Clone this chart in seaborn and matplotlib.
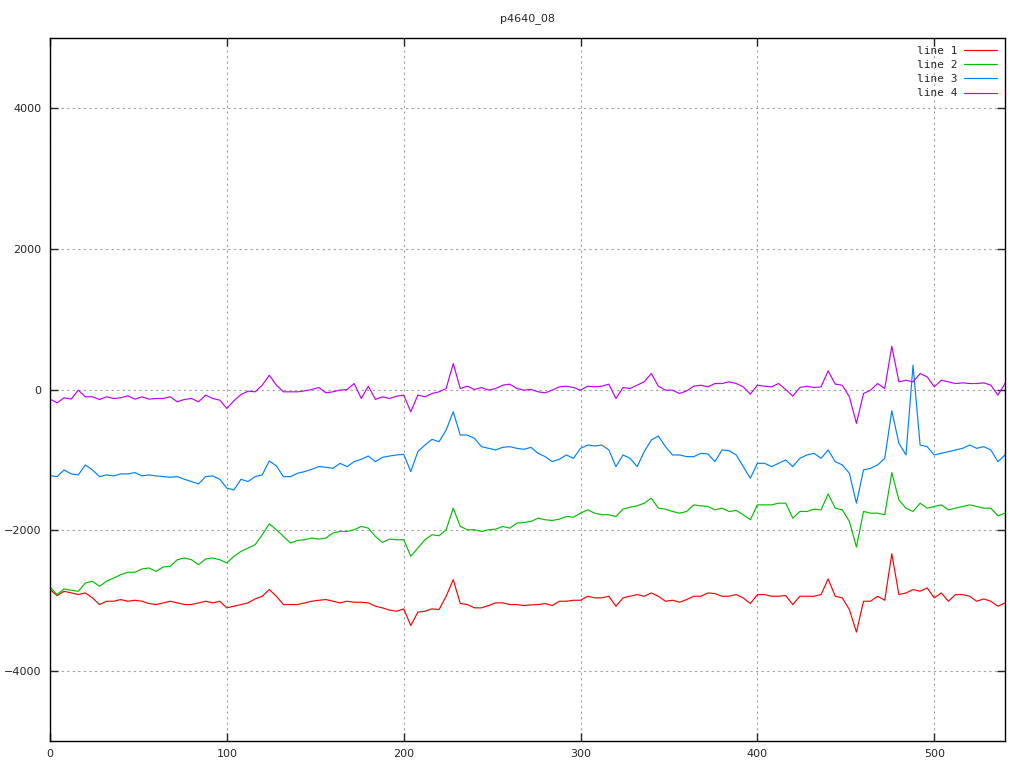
import numpy as np
import pandas as pd
import seaborn as sns
import matplotlib
matplotlib.use("Agg")
import matplotlib.pyplot as plt

title = "p4640_08"
x_vals = list(range(0, 541, 4))

line1 = [-2846, -2931, -2870, -2894, -2917, -2894, -2964, -3059, -3012, -3012,
         -2988, -3012, -2998, -3012, -3045, -3059, -3035, -3012, -3035, -3059,
         -3059, -3035, -3012, -3035, -3012, -3106, -3083, -3059, -3035, -2979,
         -2941, -2846, -2941, -3059, -3059, -3059, -3035, -3012, -2998, -2988,
         -3012, -3035, -3012, -3026, -3026, -3035, -3083, -3106, -3139, -3154,
         -3120, -3357, -3168, -3154, -3120, -3130, -2941, -2704, -3045, -3059,
         -3106, -3106, -3073, -3035, -3035, -3059, -3059, -3073, -3064, -3059,
         -3045, -3073, -3012, -3012, -2998, -2998, -2941, -2964, -2964, -2941,
         -3083, -2964, -2941, -2917, -2941, -2894, -2941, -3012, -2998, -3026,
         -2988, -2941, -2941, -2894, -2903, -2941, -2941, -2917, -2964, -3045,
         -2917, -2917, -2941, -2941, -2931, -3059, -2941, -2941, -2941, -2917,
         -2695, -2941, -2964, -3130, -3451, -3012, -3012, -2941, -2998, -2336,
         -2917, -2894, -2846, -2870, -2823, -2964, -2894, -3012, -2917, -2917,
         -2941, -3012, -2979, -3012, -3083, -3035]

line2 = [-2808, -2917, -2837, -2856, -2870, -2752, -2728, -2799, -2728, -2681,
         -2634, -2600, -2600, -2553, -2539, -2586, -2525, -2515, -2421, -2397,
         -2421, -2492, -2411, -2397, -2421, -2468, -2373, -2303, -2255, -2208,
         -2066, -1910, -1995, -2090, -2184, -2147, -2137, -2113, -2128, -2113,
         -2042, -2019, -2019, -1995, -1948, -1972, -2090, -2175, -2128, -2137,
         -2137, -2373, -2255, -2137, -2066, -2080, -1995, -1688, -1948, -1995,
         -1995, -2019, -1995, -1986, -1948, -1972, -1901, -1891, -1877, -1830,
         -1853, -1863, -1844, -1806, -1816, -1759, -1712, -1759, -1782, -1782,
         -1806, -1702, -1674, -1655, -1617, -1546, -1688, -1702, -1735, -1759,
         -1735, -1641, -1655, -1664, -1712, -1688, -1735, -1721, -1782, -1853,
         -1641, -1641, -1641, -1617, -1617, -1830, -1735, -1735, -1702, -1712,
         -1485, -1688, -1712, -1877, -2241, -1735, -1759, -1759, -1782, -1182,
         -1570, -1688, -1735, -1617, -1688, -1664, -1641, -1712, -1688, -1664,
         -1641, -1664, -1688, -1688, -1797, -1759]

line3 = [-1225, -1239, -1144, -1201, -1215, -1073, -1144, -1239, -1215, -1229,
         -1201, -1201, -1182, -1229, -1215, -1229, -1239, -1248, -1239, -1277,
         -1310, -1343, -1239, -1229, -1277, -1404, -1428, -1277, -1310, -1239,
         -1215, -1017, -1087, -1239, -1239, -1191, -1168, -1135, -1097, -1106,
         -1121, -1050, -1097, -1026, -993, -946, -1026, -965, -946, -931,
         -922, -1168, -884, -790, -709, -742, -577, -317, -648, -648,
         -695, -813, -837, -860, -823, -813, -837, -851, -823, -908,
         -955, -1026, -993, -931, -979, -837, -790, -804, -790, -860,
         -1097, -931, -979, -1097, -884, -719, -662, -813, -931, -931,
         -955, -955, -908, -917, -1026, -860, -870, -931, -1097, -1262,
         -1050, -1050, -1097, -1050, -1002, -1097, -979, -931, -908, -979,
         -860, -1026, -1073, -1191, -1617, -1144, -1121, -1073, -979, -303,
         -766, -931, 345, -790, -813, -931, -908, -884, -860, -837,
         -790, -837, -813, -860, -1026, -931]

line4 = [-137, -189, -118, -137, -9, -104, -104, -142, -104, -128,
         -118, -90, -137, -104, -137, -128, -128, -104, -175, -142,
         -128, -175, -80, -128, -151, -270, -161, -71, -24, -33,
         61, 203, 61, -33, -33, -33, -19, 0, 28, -47,
         -33, -9, 0, 85, -128, 47, -142, -104, -128, -95,
         -80, -317, -80, -104, -57, -33, 14, 369, 14, 47,
         0, 28, -9, 14, 61, 76, 14, -9, 0, -33,
         -47, -9, 38, 47, 28, -9, 47, 38, 47, 76,
         -128, 28, 14, 61, 109, 227, 47, -9, -9, -57,
         -19, 47, 61, 38, 85, 85, 109, 85, 38, -66,
         61, 47, 38, 85, 0, -95, 28, 47, 28, 38,
         265, 76, 61, -104, -482, -57, -9, 85, 14, 615,
         109, 132, 109, 227, 180, 38, 132, 109, 85, 95,
         85, 85, 95, 61, -80, 85]

series_names = ["line 1", "line 2", "line 3", "line 4"]
series_colors = ["#ff0000", "#00c000", "#0080ff", "#c000ff"]
x_ticks = [0, 100, 200, 300, 400, 500]
y_ticks = [-4000, -2000, 0, 2000, 4000]

frames = []
for name, vals in zip(series_names, [line1, line2, line3, line4]):
    frames.append(pd.DataFrame({"x": x_vals, "y": vals, "series": name}))
df = pd.concat(frames, ignore_index=True)

sns.set_style("white")
plt.rcParams['font.family'] = ['DejaVu Sans']

fig = plt.figure(figsize=(10.24, 7.68), dpi=100)
ax = fig.add_axes([50/1024, 1 - 741/768, 955/1024, 703/768])

sns.lineplot(data=df, x="x", y="y", hue="series", hue_order=series_names,
             palette=dict(zip(series_names, series_colors)), linewidth=0.85,
             ax=ax, legend=True, estimator=None, sort=False)

ax.set_xlim(0, 540)
ax.set_ylim(-5000, 5000)
ax.set_xticks(x_ticks)
ax.set_yticks(y_ticks)
ax.set_xlabel("")
ax.set_ylabel("")
ax.grid(True, color="#a0a0a0", linestyle=(0, (2, 3)), linewidth=0.8)
ax.tick_params(direction="in", length=6, width=1, labelsize=8,
               top=True, right=True, bottom=True, left=True, pad=6)
for s in ax.spines.values():
    s.set_color("black")
    s.set_linewidth(1.0)

ax.set_title(title, fontsize=8, pad=12)

leg = ax.legend(loc="upper right", frameon=False, markerfirst=False,
                fontsize=8, handlelength=3.0, labelspacing=0.38,
                borderaxespad=0.3, handletextpad=0.6)
for t in leg.get_texts():
    t.set_family("DejaVu Sans Mono")

fig.savefig("out.png", dpi=100)
